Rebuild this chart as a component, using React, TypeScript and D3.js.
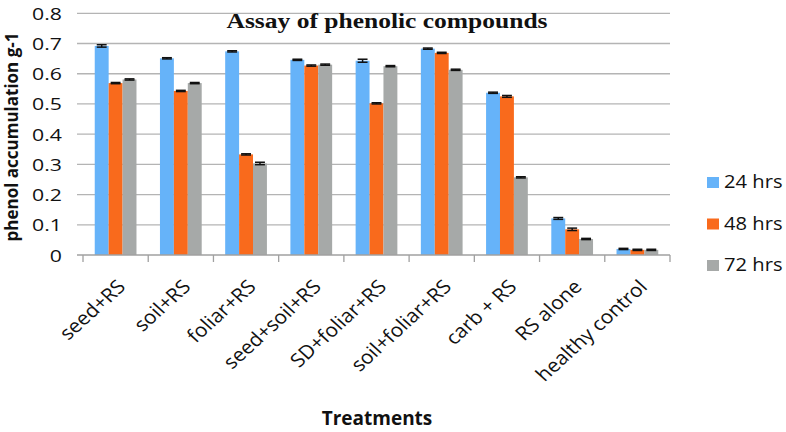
import * as d3 from 'd3'

const categories = ['seed+RS', 'soil+RS', 'foliar+RS', 'seed+soil+RS', 'SD+foliar+RS', 'soil+foliar+RS', 'carb + RS', 'RS alone', 'healthy control']
const seriesNames = ['24 hrs', '48 hrs', '72 hrs']
const hrs24 = [0.692, 0.651, 0.674, 0.646, 0.643, 0.683, 0.537, 0.121, 0.020]
const hrs48 = [0.569, 0.543, 0.333, 0.627, 0.502, 0.669, 0.525, 0.085, 0.017]
const hrs72 = [0.581, 0.569, 0.303, 0.630, 0.625, 0.613, 0.257, 0.053, 0.017]
const err24 = [0.004, 0.002, 0.002, 0.002, 0.005, 0.002, 0.002, 0.003, 0.002]
const err48 = [0.002, 0.002, 0.002, 0.002, 0.002, 0.002, 0.003, 0.004, 0.002]
const err72 = [0.002, 0.002, 0.004, 0.002, 0.002, 0.002, 0.002, 0.002, 0.002]
const yTicks = [0, 0.1, 0.2, 0.3, 0.4, 0.5, 0.6, 0.7, 0.8]

const colors = ['#66b3f9', '#f96a1c', '#a6a9a8']
const font = '"Open Sans", sans-serif'

export default function App() {
  const width = 786
  const height = 432
  const left = 83
  const right = 670
  const bottom = 255
  const top = 13.3

  const x0 = d3.scaleBand<string>().domain(categories).range([left, right]).padding(0)
  const bw = x0.bandwidth()
  const x1 = d3.scaleBand<string>().domain(seriesNames).range([bw * 0.18, bw * 0.82]).padding(0)
  const y = d3.scaleLinear().domain([0, 0.8]).range([bottom, top])

  const values = [hrs24, hrs48, hrs72]
  const errs = [err24, err48, err72]
  const bars = categories.flatMap((c, i) =>
    seriesNames.map((s, k) => ({ c, s, k, v: values[k][i], e: errs[k][i] }))
  )
  const boundaries = [...categories.map(c => x0(c)!), right]

  return (
    <svg width={width} height={height} style={{ position: 'absolute', left: 0, top: 0, background: '#fff' }}>
      {/* gridlines */}
      {yTicks.filter(t => t > 0).map(t => (
        <line key={t} x1={77} x2={right} y1={y(t)} y2={y(t)} stroke="#b4b4b4" strokeWidth={1.3} />
      ))}
      {/* y tick labels (source figure is stretched horizontally) */}
      {yTicks.map(t => (
        <text key={'l' + t} transform={`translate(62,${y(t) + 6.5}) scale(1.25,1)`} textAnchor="end"
          fontFamily={font} fontSize={17} fill="#111">
          {t === 0 ? '0' : d3.format('.1f')(t)}
        </text>
      ))}
      {/* bars */}
      {bars.map(b => {
        const bx = x0(b.c)! + x1(b.s)!
        const w = x1.bandwidth()
        return (
          <g key={b.c + b.s}>
            <rect x={bx} y={y(b.v)} width={w} height={bottom - y(b.v)} fill={colors[b.k]} />
            <line x1={bx + w / 2} x2={bx + w / 2} y1={y(b.v - b.e)} y2={y(b.v + b.e)} stroke="#111" strokeWidth={1.5} />
            <line x1={bx + 2} x2={bx + w - 2} y1={y(b.v + b.e)} y2={y(b.v + b.e)} stroke="#111" strokeWidth={1.5} />
            <line x1={bx + 2} x2={bx + w - 2} y1={y(b.v - b.e)} y2={y(b.v - b.e)} stroke="#111" strokeWidth={1.5} />
          </g>
        )
      })}
      {/* x axis */}
      <line x1={77} x2={right} y1={bottom} y2={bottom} stroke="#a0a0a0" strokeWidth={1.3} />
      {boundaries.map((bx, i) => (
        <line key={'t' + i} x1={bx} x2={bx} y1={bottom} y2={bottom + 7} stroke="#a0a0a0" strokeWidth={1.3} />
      ))}
      {categories.map(c => {
        const cx = x0(c)! + bw / 2
        return (
          <text key={'x' + c} transform={`translate(${cx + 11},${288}) scale(1.1,1) rotate(-45)`} textAnchor="end"
            fontFamily={font} fontSize={19} fill="#111">{c}</text>
        )
      })}
      {/* title */}
      <text x={387} y={28} textAnchor="middle" fontFamily='"Liberation Serif", "Times New Roman", serif'
        fontWeight="bold" fontSize={20.5} textLength={321} lengthAdjust="spacingAndGlyphs" fill="#111">
        Assay of phenolic compounds
      </text>
      {/* y axis title */}
      <text transform={`translate(17.5,${137}) rotate(-90)`} textAnchor="middle" fontFamily={font}
        fontWeight="bold" fontSize={17} fill="#111">phenol accumulation g-1</text>
      {/* x axis title */}
      <text x={377} y={425} textAnchor="middle" fontFamily={font} fontWeight="bold" fontSize={19} fill="#111">
        Treatments
      </text>
      {/* legend */}
      {seriesNames.map((s, k) => {
        const by = 188 + k * 41.5
        return (
          <g key={'lg' + s}>
            <rect x={707} y={by - 11} width={12} height={11} fill={colors[k]} />
            <text transform={`translate(724,${by}) scale(1.12,1)`} fontFamily={font} fontSize={18} fill="#111">{s}</text>
          </g>
        )
      })}
    </svg>
  )
}
